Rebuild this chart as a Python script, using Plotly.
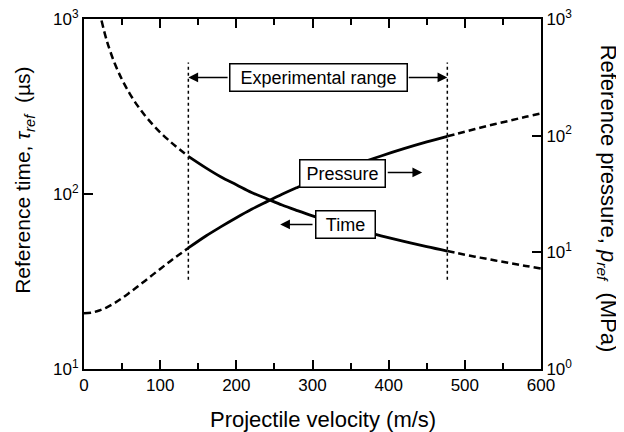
import plotly.graph_objects as go

# reference time (left axis, µs) vs projectile velocity (m/s)
time_v_low = [23, 30, 40, 50, 60, 70, 80, 90, 100, 110, 120, 137]
time_low = [980, 750, 562, 450, 375, 321, 281, 250, 225, 205, 188, 164]
time_v_mid = [137, 160, 180, 200, 220, 240, 260, 280, 300, 330, 360, 390, 420, 450, 477]
time_mid = [164, 141, 125, 113, 102, 94, 86.5, 80.4, 75, 68.2, 62.5, 57.7, 53.6, 50, 47.2]
time_v_high = [477, 500, 520, 540, 560, 580, 600]
time_high = [47.2, 45, 43.3, 41.7, 40.2, 38.8, 37.5]

# reference pressure (right axis, MPa)
pres_v_low = [0, 10, 20, 30, 40, 50, 60, 70, 80, 90, 100, 110, 120, 137]
pres_low = [3.0, 3.04, 3.17, 3.38, 3.67, 4.05, 4.52, 5.06, 5.69, 6.41, 7.21, 8.09, 9.06, 10.9]
pres_v_mid = [137, 160, 180, 200, 220, 240, 260, 280, 300, 330, 360, 390, 420, 450, 477]
pres_mid = [10.9, 13.8, 16.6, 19.8, 23.4, 27.2, 31.5, 36.0, 40.9, 48.8, 57.6, 67.0, 77.3, 88.3, 98.8]
pres_v_high = [477, 500, 520, 540, 560, 580, 600]
pres_high = [98.8, 108, 117, 126, 135, 145, 155]

# experimental range
range_v = [137, 477]
range_span = [32.4, 564]

x_ticks = [0, 100, 200, 300, 400, 500, 600]
left_ticks = [10, 100, 1000]
left_text = ["10<sup>1</sup>", "10<sup>2</sup>", "10<sup>3</sup>"]
right_ticks = [1, 10, 100, 1000]
right_text = ["10<sup>0</sup>", "10<sup>1</sup>", "10<sup>2</sup>", "10<sup>3</sup>"]

FONT = "Liberation Sans, Arial, sans-serif"
dash = "7px,4px"
sp = "\u00a0"

fig = go.Figure()

for xs, ys in [(time_v_low, time_low), (time_v_high, time_high)]:
    fig.add_trace(go.Scatter(x=xs, y=ys, mode="lines", yaxis="y",
                             line=dict(color="black", width=2.5, dash=dash, shape="spline")))
fig.add_trace(go.Scatter(x=time_v_mid, y=time_mid, mode="lines", yaxis="y",
                         line=dict(color="black", width=2.8, shape="spline")))

for xs, ys in [(pres_v_low, pres_low), (pres_v_high, pres_high)]:
    fig.add_trace(go.Scatter(x=xs, y=ys, mode="lines", yaxis="y2",
                             line=dict(color="black", width=2.5, dash=dash, shape="spline")))
fig.add_trace(go.Scatter(x=pres_v_mid, y=pres_mid, mode="lines", yaxis="y2",
                         line=dict(color="black", width=2.8, shape="spline")))

for v in range_v:
    fig.add_trace(go.Scatter(x=[v, v], y=range_span, mode="lines", yaxis="y",
                             line=dict(color="black", width=1.5, dash="dot")))

ann = []
box = dict(bordercolor="black", borderwidth=1.5, bgcolor="white", showarrow=False,
           font=dict(size=18, color="black", family=FONT), xref="x", yref="y", borderpad=3)
ann.append(dict(text="Experimental range", x=307.5, y=2.666, width=170, **box))
ann.append(dict(text="Pressure", x=339, y=2.12, width=78, **box))
ann.append(dict(text="Time", x=343, y=1.823, width=52, **box))

arrows = [
    (190.5, 137, 2.666),
    (424.4, 477, 2.666),
    (396.8, 444, 2.123),
    (302, 257.6, 1.826),
]
for x0, x1, yy in arrows:
    ann.append(dict(text="", x=x1, y=yy, ax=x0, ay=yy, xref="x", yref="y", axref="x", ayref="y",
                    showarrow=True, arrowhead=2, arrowsize=1.3, arrowwidth=1.5, arrowcolor="black"))

ann.append(dict(text="Reference time, <i>τ<sub>ref</sub></i>" + sp * 2 + "(µs)", xref="paper", yref="paper",
                x=-0.131, y=0.538, textangle=-90, showarrow=False, xanchor="center", yanchor="middle",
                font=dict(size=21, color="black", family=FONT)))
ann.append(dict(text="Reference pressure, <i>p<sub>ref</sub></i>" + sp * 2 + "(MPa)", xref="paper", yref="paper",
                x=1.145, y=0.486, textangle=90, showarrow=False, xanchor="center", yanchor="middle",
                font=dict(size=22, color="black", family=FONT)))
ann.append(dict(text="Projectile velocity (m/s)", xref="paper", yref="paper",
                x=0.523, y=-0.143, showarrow=False, xanchor="center", yanchor="middle",
                font=dict(size=22, color="black", family=FONT)))

# the page body adds an 8 px offset, so the figure is 8 px smaller each way
fig.update_layout(
    width=616, height=424,
    margin=dict(l=76, r=83, t=11, b=63),
    paper_bgcolor="white", plot_bgcolor="white",
    showlegend=False,
    font=dict(family=FONT, size=17, color="black"),
    annotations=ann,
    xaxis=dict(range=[0, 600], tickvals=x_ticks, showgrid=False, zeroline=False, automargin=False,
               showline=True, linecolor="black", linewidth=2, mirror="ticks",
               ticks="inside", ticklen=9, tickwidth=2, tickcolor="black", ticklabeloverflow="allow",
               minor=dict(dtick=50, ticks="inside", ticklen=6, tickwidth=2, tickcolor="black")),
    yaxis=dict(type="log", range=[1, 3], tickvals=left_ticks, ticktext=left_text, automargin=False,
               showgrid=False, zeroline=False, showline=True, linecolor="black", linewidth=2,
               ticks="inside", ticklen=9, tickwidth=2, tickcolor="black", ticklabeloverflow="allow"),
    yaxis2=dict(type="log", range=[0, 3], tickvals=right_ticks, ticktext=right_text,
                overlaying="y", side="right", showgrid=False, zeroline=False, automargin=False,
                showline=True, linecolor="black", linewidth=2,
                ticks="inside", ticklen=9, tickwidth=2, tickcolor="black", ticklabeloverflow="allow"),
)

fig.write_html("out.html")
